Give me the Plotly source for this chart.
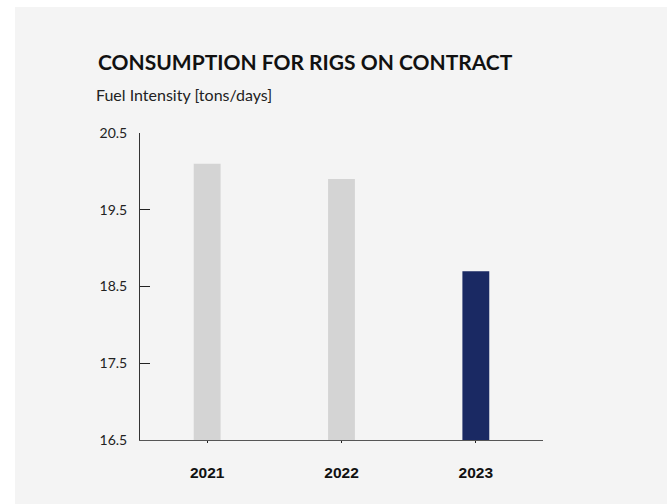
import plotly.graph_objects as go

# Fuel intensity per year for rigs on contract
years = ["2021", "2022", "2023"]
fuel_intensity = [20.1, 19.9, 18.7]
bar_colors = ["#d4d4d4", "#d4d4d4", "#1a2963"]
y_ticks = [16.5, 17.5, 18.5, 19.5, 20.5]

W, H = 667, 504
L, R, T, B = 140, 124, 133, 64
pw, ph = W - L - R, H - T - B


def px_x(x):
    return (x - L) / pw


def px_y(y):
    return (H - B - y) / ph


fig = go.Figure(
    go.Bar(
        x=years,
        y=fuel_intensity,
        marker=dict(color=bar_colors, line=dict(width=0)),
        width=0.2,
        hoverinfo="x+y",
    )
)

fig.update_layout(
    width=W,
    height=H,
    margin=dict(l=L, r=R, t=T, b=B),
    paper_bgcolor="white",
    plot_bgcolor="rgba(0,0,0,0)",
    showlegend=False,
    shapes=[
        dict(
            type="rect", xref="paper", yref="paper", layer="below",
            x0=px_x(15), x1=px_x(W + 2), y0=px_y(H + 2), y1=px_y(7),
            fillcolor="#f4f4f4", line=dict(width=0),
        )
    ],
    annotations=[
        dict(
            text="<b>CONSUMPTION FOR RIGS ON CONTRACT</b>",
            xref="paper", yref="paper", x=px_x(96), y=px_y(62),
            xanchor="left", yanchor="middle", showarrow=False,
            font=dict(family="Lato", size=21, color="#111111"),
        ),
        dict(
            text="Fuel Intensity [tons/days]",
            xref="paper", yref="paper", x=px_x(94), y=px_y(95),
            xanchor="left", yanchor="middle", showarrow=False,
            font=dict(family="Lato", size=16, color="#222222"),
        ),
    ],
)

fig.update_yaxes(
    range=[16.5, 20.5],
    tickvals=y_ticks,
    ticktext=[f"{v:.1f}" for v in y_ticks],
    ticks="inside",
    ticklen=10,
    tickwidth=1,
    tickcolor="#222222",
    showline=True,
    linecolor="#333333",
    linewidth=1,
    showgrid=False,
    zeroline=False,
    ticklabelstandoff=9,
    tickfont=dict(family="Lato", size=14, color="#222222"),
)

fig.update_xaxes(
    tickvals=years,
    ticktext=[f"<b>{y}</b>" for y in years],
    ticks="outside",
    ticklen=2,
    tickcolor="#222222",
    showline=True,
    linecolor="#555555",
    linewidth=1,
    showgrid=False,
    ticklabelstandoff=16,
    tickfont=dict(family="Arial, Liberation Sans, sans-serif", size=15.5, color="#111111"),
)

fig.write_html("out.html")
